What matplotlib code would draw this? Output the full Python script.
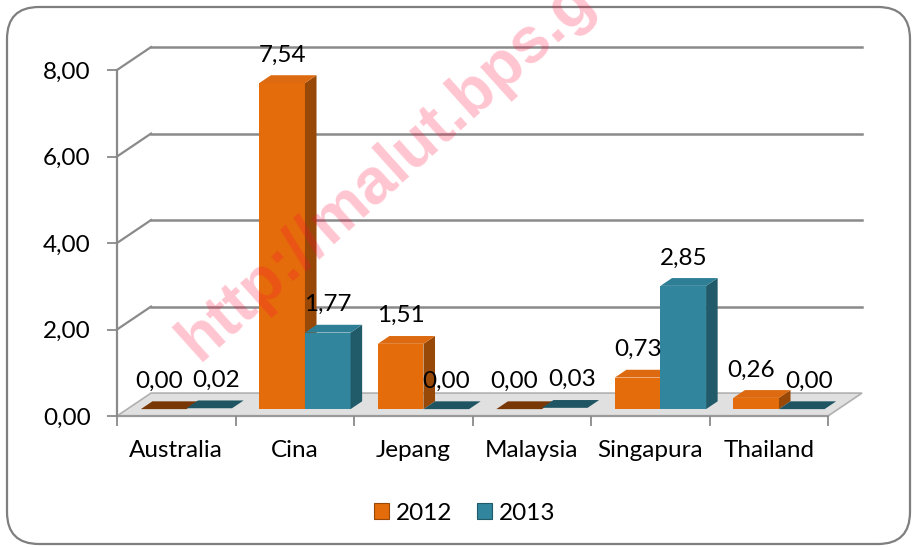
import matplotlib.pyplot as plt
from matplotlib.patches import Polygon, FancyBboxPatch, Patch
import numpy as np

countries = ['Australia', 'Cina', 'Jepang', 'Malaysia', 'Singapura', 'Thailand']
val_2012 = [0.00, 7.54, 1.51, 0.00, 0.73, 0.26]
val_2013 = [0.02, 1.77, 0.00, 0.03, 2.85, 0.00]
years = ['2012', '2013']
yticks = [0, 2, 4, 6, 8]

plt.rcParams['font.family'] = ['Lato', 'DejaVu Sans']
fs = 17.5

# colours: front, top, side, flat (zero height)
orange = dict(front='#e46c0a', top='#dd6a10', side='#984807', flat='#7a3706')
teal = dict(front='#31859c', top='#2e7f95', side='#215a69', flat='#1f5563')
grid_c = '#8a8a8a'

# fake 3D depth in data units (x in categories, y in values)
ox, oy = 0.287, 0.53
a, b = 0.30, 0.64      # bar depth range as fraction of the floor depth
w = 0.385
gap = 1 - 2 * w

fig = plt.figure(figsize=(9.14, 5.47), dpi=100)
ax = fig.add_axes([117 / 914, 1 - 416 / 547, 711 / 914, 346 / 547])
ax.set_xlim(0, 6)
ax.set_ylim(0, 8)
ax.patch.set_visible(False)

# outer rounded frame
frame = FancyBboxPatch((7 / 914, 3 / 547), 903 / 914, 537 / 547,
                       boxstyle='round,pad=0,rounding_size=0.035',
                       transform=fig.transFigure, fc='white', ec='#7f7f7f',
                       lw=1.6, zorder=-10, mutation_aspect=914 / 547)
fig.patches.append(frame)

# back wall gridlines and side wall diagonals
for v in yticks[1:]:
    ax.plot([ox, 6 + ox], [v + oy, v + oy], color=grid_c, lw=1.8, clip_on=False, zorder=1)
    ax.plot([0, ox], [v, v + oy], color=grid_c, lw=1.6, clip_on=False, zorder=1)

# floor
floor = Polygon([(0, 0), (6, 0), (6 + ox, oy), (ox, oy)], closed=True,
                fc='#e0e0e0', ec='#b0b0b0', lw=1.2, clip_on=False, zorder=1)
ax.add_patch(floor)
ax.plot([0, 6], [0, 0], color='#9a9a9a', lw=1.6, clip_on=False, zorder=1.5)


def draw_bar(x0, v, c, nudge=0):
    x1 = x0 + w
    fa, fb = a * ox, b * ox
    ya, yb = a * oy, b * oy
    if v > 0.1:
        ax.bar(x0 + fa, v, width=w, bottom=ya, align='edge', color=c['front'],
               lw=0, clip_on=False, zorder=3)
        ax.add_patch(Polygon([(x1 + fa, ya), (x1 + fb, yb), (x1 + fb, v + yb), (x1 + fa, v + ya)],
                             closed=True, fc=c['side'], lw=0, clip_on=False, zorder=3))
        top_c = c['top']
    else:
        top_c = c['flat']
    ax.add_patch(Polygon([(x0 + fa, v + ya), (x1 + fa, v + ya), (x1 + fb, v + yb), (x0 + fb, v + yb)],
                         closed=True, fc=top_c, lw=0, clip_on=False, zorder=3))
    lbl = f'{v:.2f}'.replace('.', ',')
    ax.annotate(lbl, (x0 + fa + w / 2, v + ya), xytext=(nudge, 28), textcoords='offset pixels',
                ha='center', va='center', fontsize=fs, color='black', zorder=5)


for i in range(len(countries)):
    # labels of two low bars side by side get pushed apart a little
    close = abs(val_2012[i] - val_2013[i]) < 0.3
    draw_bar(i + gap / 2, val_2012[i], orange, nudge=-5 if close else 0)
    draw_bar(i + gap / 2 + w, val_2013[i], teal, nudge=7 if close else 0)

# axes styling
for s in ['top', 'right', 'bottom']:
    ax.spines[s].set_visible(False)
ax.spines['left'].set_color(grid_c)
ax.spines['left'].set_linewidth(1.6)
ax.set_yticks(yticks)
ax.set_yticklabels([f'{t:.2f}'.replace('.', ',') for t in yticks], fontsize=fs)
ax.tick_params(axis='y', length=7, width=1.3, color=grid_c, pad=12)
ax.set_xticks(range(7))
ax.set_xticklabels([])
ax.set_xticks(np.arange(6) + 0.5, minor=True)
ax.set_xticklabels(countries, minor=True, fontsize=fs)
ax.tick_params(axis='x', which='major', length=7, width=1.3, color=grid_c)
ax.tick_params(axis='x', which='minor', length=0, pad=17)

# legend
handles = [Patch(fc=orange['front'], ec=orange['side'], lw=0.8),
           Patch(fc=teal['front'], ec=teal['side'], lw=0.8)]
fig.legend(handles, years, loc='center', bbox_to_anchor=(465 / 914, 1 - 513 / 547),
           ncol=2, frameon=False, fontsize=fs, handlelength=0.6, handleheight=0.6,
           handletextpad=0.3, columnspacing=1.0)

# watermark
fig.text(199 / 914, 1 - 362 / 547, 'http://malut.bps.go.id', rotation=42,
         rotation_mode='anchor', ha='left', va='baseline', fontsize=46,
         fontweight='bold', family='Liberation Sans', color='#ff0a3a', alpha=0.24, zorder=20)

fig.savefig('out.png', dpi=100)
